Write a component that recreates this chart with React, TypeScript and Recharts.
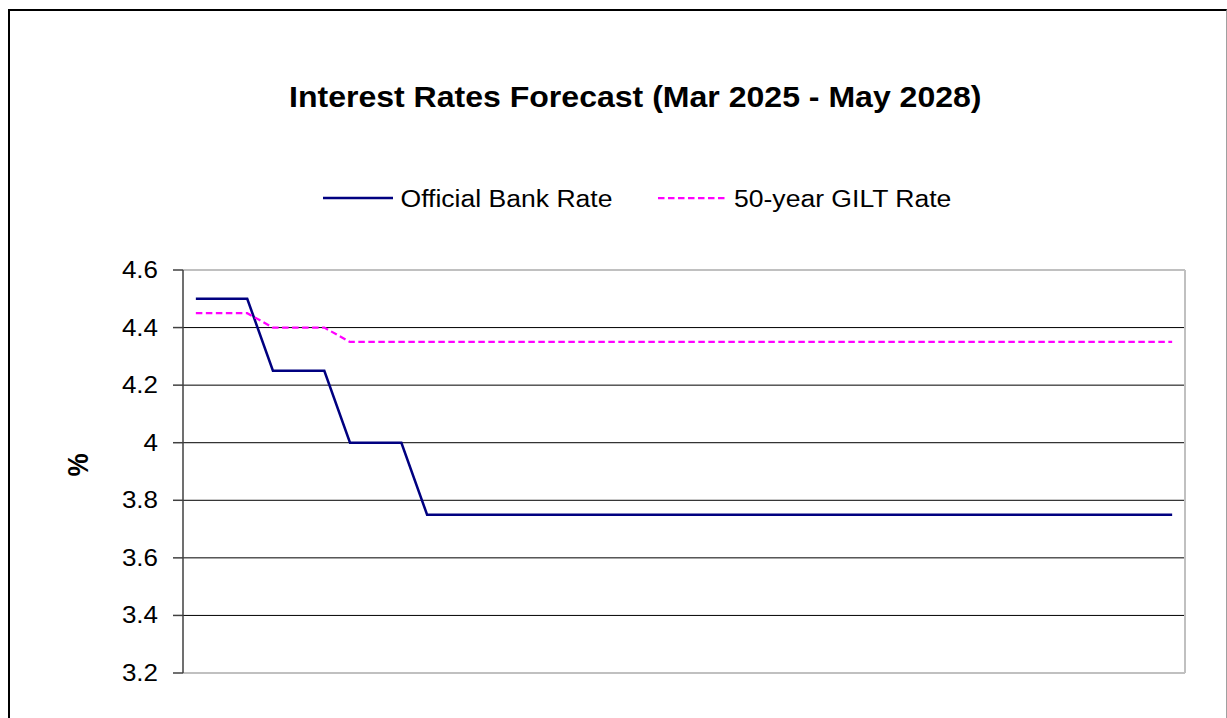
import React from 'react';
import { LineChart, Line, XAxis, YAxis, CartesianGrid, Legend, ReferenceLine } from 'recharts';

const months = [
  'Mar 2025', 'Apr 2025', 'May 2025', 'Jun 2025', 'Jul 2025', 'Aug 2025', 'Sep 2025', 'Oct 2025', 'Nov 2025', 'Dec 2025',
  'Jan 2026', 'Feb 2026', 'Mar 2026', 'Apr 2026', 'May 2026', 'Jun 2026', 'Jul 2026', 'Aug 2026', 'Sep 2026', 'Oct 2026',
  'Nov 2026', 'Dec 2026', 'Jan 2027', 'Feb 2027', 'Mar 2027', 'Apr 2027', 'May 2027', 'Jun 2027', 'Jul 2027', 'Aug 2027',
  'Sep 2027', 'Oct 2027', 'Nov 2027', 'Dec 2027', 'Jan 2028', 'Feb 2028', 'Mar 2028', 'Apr 2028', 'May 2028',
];

const bankRate = [
  4.5, 4.5, 4.5, 4.25, 4.25, 4.25, 4.0, 4.0, 4.0, 3.75,
  3.75, 3.75, 3.75, 3.75, 3.75, 3.75, 3.75, 3.75, 3.75, 3.75,
  3.75, 3.75, 3.75, 3.75, 3.75, 3.75, 3.75, 3.75, 3.75, 3.75,
  3.75, 3.75, 3.75, 3.75, 3.75, 3.75, 3.75, 3.75, 3.75,
];

const giltRate = [
  4.45, 4.45, 4.45, 4.4, 4.4, 4.4, 4.35, 4.35, 4.35, 4.35,
  4.35, 4.35, 4.35, 4.35, 4.35, 4.35, 4.35, 4.35, 4.35, 4.35,
  4.35, 4.35, 4.35, 4.35, 4.35, 4.35, 4.35, 4.35, 4.35, 4.35,
  4.35, 4.35, 4.35, 4.35, 4.35, 4.35, 4.35, 4.35, 4.35,
];

const yTicks = [3.2, 3.4, 3.6, 3.8, 4.0, 4.2, 4.4, 4.6];
const yMin = 3.2;
const yMax = 4.6;

const seriesNames = { bank: 'Official Bank Rate', gilt: '50-year GILT Rate' };

const data = months.map((m, i) => ({ month: m, bank: bankRate[i], gilt: giltRate[i] }));

const FONT = '"Liberation Sans", Arial, sans-serif';
const BORDER = '#c0c0c0';

const YTick = (props: any) => {
  const { x, y, payload } = props;
  const label = Number(payload.value).toString();
  return (
    <g transform={`translate(${x},${y + 8}) scale(1.13,1)`}>
      <text x={0} y={0} textAnchor="end" fontSize={23} fontFamily={FONT} fill="#000">
        {label}
      </text>
    </g>
  );
};

const LegendContent = () => (
  <svg width={1227} height={40} style={{ display: 'block' }}>
    <line x1={323} x2={393} y1={18} y2={18} stroke="#000080" strokeWidth={2.5} />
    <g transform="translate(400.5,27) scale(1.13,1)">
      <text x={0} y={0} fontSize={23.5} fontFamily={FONT} fill="#000">{seriesNames.bank}</text>
    </g>
    <line x1={658} x2={727} y1={18} y2={18} stroke="#FF00FF" strokeWidth={2.25} strokeDasharray="6.5 3.5" />
    <g transform="translate(734,27) scale(1.13,1)">
      <text x={0} y={0} fontSize={23.5} fontFamily={FONT} fill="#000">{seriesNames.gilt}</text>
    </g>
  </svg>
);

export default function App() {
  return (
    <div style={{ position: 'absolute', left: 0, top: 0, width: 1227, height: 718, background: '#fff', overflow: 'hidden' }}>
      <div
        style={{
          position: 'absolute', left: 8, top: 9, width: 1219, height: 740, boxSizing: 'border-box',
          borderTop: '2px solid #000', borderLeft: '2px solid #000', borderRight: '1px solid #a0a0a0',
        }}
      />
      <div style={{ position: 'absolute', left: 0, top: 0 }}>
        <LineChart width={1227} height={718} data={data} margin={{ top: 270, right: 41, bottom: 45, left: 123 }}>
          <CartesianGrid vertical={false} stroke="#000" strokeWidth={1} />
          <XAxis
            dataKey="month"
            height={0}
            tick={false}
            tickLine={false}
            axisLine={{ stroke: BORDER, strokeWidth: 2 }}
            padding={{ left: 12.85, right: 12.85 }}
          />
          <YAxis
            width={60}
            domain={[yMin, yMax]}
            ticks={yTicks}
            interval={0}
            tickSize={10}
            tickMargin={15}
            tick={<YTick />}
            axisLine={{ stroke: '#404040', strokeWidth: 1.5 }}
            tickLine={{ stroke: '#404040', strokeWidth: 1.5 }}
          />
          <YAxis
            yAxisId="right"
            orientation="right"
            width={1}
            domain={[yMin, yMax]}
            ticks={yTicks}
            tick={false}
            tickLine={false}
            axisLine={{ stroke: BORDER, strokeWidth: 2 }}
          />
          <ReferenceLine y={yMax} stroke={BORDER} strokeWidth={2} />
          <ReferenceLine y={yMin} stroke={BORDER} strokeWidth={2} />
          <Legend
            verticalAlign="middle"
            layout="horizontal"
            wrapperStyle={{ position: 'absolute', top: 180, left: 0, width: 1227, height: 40 }}
            content={<LegendContent />}
          />
          <Line
            type="linear"
            dataKey="bank"
            name={seriesNames.bank}
            stroke="#000080"
            strokeWidth={2.5}
            dot={false}
            activeDot={false}
            isAnimationActive={false}
          />
          <Line
            type="linear"
            dataKey="gilt"
            name={seriesNames.gilt}
            stroke="#FF00FF"
            strokeWidth={2.25}
            strokeDasharray="6.5 3.5"
            dot={false}
            activeDot={false}
            isAnimationActive={false}
          />
          <Line
            yAxisId="right"
            type="linear"
            dataKey="bank"
            legendType="none"
            stroke="none"
            strokeWidth={0}
            dot={false}
            activeDot={false}
            isAnimationActive={false}
          />
        </LineChart>
      </div>
      <svg width={1227} height={718} style={{ position: 'absolute', left: 0, top: 0, pointerEvents: 'none' }}>
        <g transform="translate(289,107.3) scale(1.105,1)">
          <text x={0} y={0} fontSize={29} fontWeight="bold" fontFamily={FONT} fill="#000">
            Interest Rates Forecast (Mar 2025 - May 2028)
          </text>
        </g>
        <g transform="translate(88.3,465) rotate(-90) scale(1,1.12)">
          <text x={0} y={0} textAnchor="middle" fontSize={26} fontWeight="bold" fontFamily={FONT} fill="#000">
            %
          </text>
        </g>
      </svg>
    </div>
  );
}
